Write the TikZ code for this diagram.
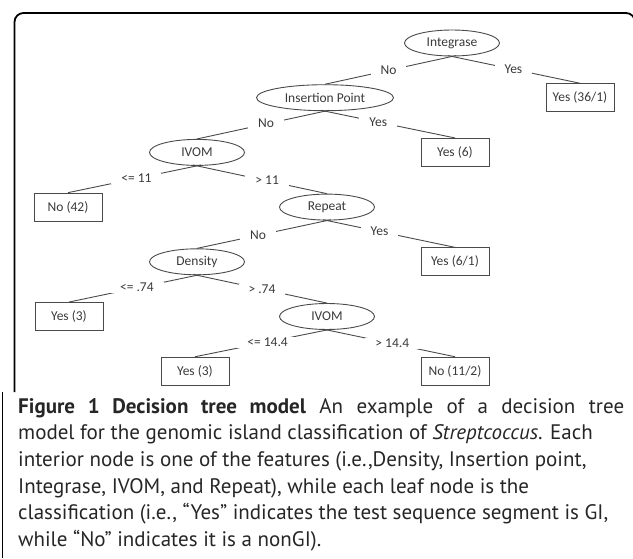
\documentclass[tikz,border=0pt]{standalone}
\usepackage{fontspec}
\setmainfont{PT Sans}
\newfontfamily\treefont{Carlito}
\usetikzlibrary{shapes.geometric}

\definecolor{treegray}{HTML}{3A3A3A}
\definecolor{edgegray}{HTML}{4A4A4A}

\tikzset{
  treetext/.style={font=\treefont\fontsize{13.5}{15}\selectfont, text=treegray},
  test/.style={treetext, draw=edgegray, line width=0.9pt, ellipse, inner sep=0pt, minimum width=95pt, minimum height=26pt},
  leaf/.style={treetext, draw=edgegray, line width=0.9pt, rectangle, inner sep=0pt, minimum width=68pt, minimum height=28pt},
  branch/.style={draw=edgegray, line width=0.9pt, shorten <=-4pt},
  cond/.style={treetext, fill=white, inner xsep=10pt, inner ysep=1pt, text height=8.5pt, text depth=0.5pt},
  capline/.style={anchor=base west, inner sep=0pt, text=black!85, font=\fontsize{21}{26}\selectfont}
}

\begin{document}
\begin{tikzpicture}[x=1pt, y=-1pt]
\useasboundingbox (0,0) rectangle (633,558) ;

% Frame
\draw [line width=1.8pt, rounded corners=9pt] (14.5,392) -- (14.5,13) -- (635,13) -- (635,100) ;
\draw [line width=1.5pt] (2.5,392) -- (2.5,558) ;

%% TREE
% Tests
\node [test] (integrase) at (452,43) {Integrase} ;
\node [test, minimum width=137pt] (insertion) at (325,97.7) {Insertion Point} ;
\node [test] (ivom) at (197,152.4) {IVOM} ;
\node [test] (repeat) at (327,207.1) {Repeat} ;
\node [test] (density) at (197,261.8) {Density} ;
\node [test] (ivomlow) at (327,316.5) {IVOM} ;

% Leaves
\node [leaf] (yesA) at (580,97.7) {Yes (36/1)} ;
\node [leaf] (yesB) at (455,152.4) {Yes (6)} ;
\node [leaf] (noA) at (68,207.1) {No (42)} ;
\node [leaf] (yesC) at (455,261.8) {Yes (6/1)} ;
\node [leaf] (yesD) at (69,316.5) {Yes (3)} ;
\node [leaf] (yesE) at (195,371.2) {Yes (3)} ;
\node [leaf] (noB) at (455,371.2) {No (11/2)} ;

% Branches
\draw [branch] (integrase.south) -- (insertion.north) node [cond, pos=0.5] (c1) {No} ;
\draw [branch] (integrase.south) -- (yesA.north) node [cond, pos=0.48] (c2) {Yes} ;
\draw [branch] (insertion.south) -- (ivom.north) node [cond, pos=0.46] (c3) {No} ;
\draw [branch] (insertion.south) -- (yesB.north) node [cond, pos=0.41] (c4) {Yes} ;
\draw [branch] (ivom.south) -- (noA.north) node [cond, pos=0.47] (c5) {<= 11} ;
\draw [branch] (ivom.south) -- (repeat.north) node [cond, pos=0.54] (c6) {> 11} ;
\draw [branch] (repeat.south) -- (density.north) node [cond, pos=0.53] (c7) {No} ;
\draw [branch] (repeat.south) -- (yesC.north) node [cond, pos=0.41] (c8) {Yes} ;
\draw [branch] (density.south) -- (yesD.north) node [cond, pos=0.47] (c9) {<= .74} ;
\draw [branch] (density.south) -- (ivomlow.north) node [cond, pos=0.5] (c10) {> .74} ;
\draw [branch] (ivomlow.south) -- (yesE.north) node [cond, pos=0.45] (c11) {<= 14.4} ;
\draw [branch] (ivomlow.south) -- (noB.north) node [cond, pos=0.51] (c12) {> 14.4} ;

%% CAPTION
\foreach \i/\txt in {
  1/{\makebox[606pt][s]{\textbf{Figure 1 Decision tree model} An example of a decision tree}},
  2/{model for the genomic island classification of \textit{Streptcoccus}. Each},
  3/{interior node is one of the features (i.e.,Density, Insertion point,},
  4/{Integrase, IVOM, and Repeat), while each leaf node is the},
  5/{classification (i.e., “Yes” indicates the test sequence segment is GI,},
  6/{while “No” indicates it is a nonGI).}}
{
  \node [capline] (cap\i) at (18,{413+26.67*(\i-1)}) {\txt} ;
}
\end{tikzpicture}
\end{document}
